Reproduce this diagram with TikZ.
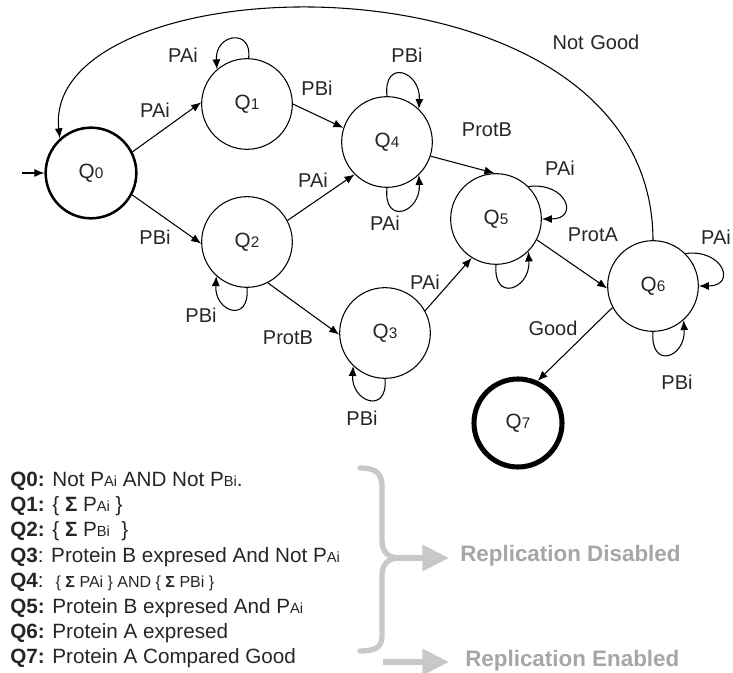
\documentclass[tikz,border=0pt]{standalone}
\usepackage{fontspec}
\setmainfont{Liberation Sans}
\usetikzlibrary{arrows.meta}
\definecolor{txt}{HTML}{262626}
\definecolor{bracegray}{HTML}{C8C8C8}
\definecolor{repgray}{HTML}{A6A6A6}
\newcommand\qn[1]{Q{\fontsize{11.5}{10}\selectfont #1}}
\newcommand\sml[1]{{\fontsize{11}{10}\selectfont #1}}
\newcommand\smq[1]{{\fontsize{12}{10}\selectfont #1}}
\begin{document}
\begin{tikzpicture}[x=0.75pt,y=-0.75pt,
  state/.style={circle,draw,line width=0.8pt,minimum size=68pt,inner sep=0pt,text=txt,font=\fontsize{15.5}{17}\selectfont},
  startst/.style={state,line width=1.9pt},
  finalst/.style={state,line width=3.8pt,minimum size=66pt},
  arr/.style={line width=0.8pt,-{Latex[length=7.5pt,width=6pt]}},
  lbl/.style={text=txt,font=\fontsize{15}{17}\selectfont,inner sep=1pt},
  leg/.style={anchor=west,text=txt,font=\fontsize{15.5}{17}\selectfont,inner sep=0pt},
  bracel/.style={draw=bracegray,line width=4pt},
  rep/.style={anchor=west,text=repgray,font=\fontsize{16.8}{18}\selectfont\bfseries,inner sep=0pt}]
\useasboundingbox (0,0) rectangle (733,673);

% states
\node[startst] (Q0) at (91,173) {\qn{0}};
\node[state] (Q1) at (247,104) {\qn{1}};
\node[state] (Q2) at (247,242) {\qn{2}};
\node[state] (Q4) at (387,142) {\qn{4}};
\node[state] (Q3) at (385,333) {\qn{3}};
\node[state] (Q5) at (496,219) {\qn{5}};
\node[state] (Q6) at (653,286) {\qn{6}};
\node[finalst] (Q7) at (518,423) {\qn{7}};

% initial arrow
\coordinate (init) at (22,173);
\draw[arr] (init) -- (Q0.180);

% transitions
\draw[arr] (Q0.27) -- (Q1.178);
\draw[arr] (Q0.-28) -- (Q2.182);
\draw[arr] (Q1.0) -- (Q4.162);
\draw[arr] (Q2.28) -- (Q4.225);
\draw[arr] (Q4.-18) -- (Q5.92);
\draw[arr] (Q2.-63) -- (Q3.182);
\draw[arr] (Q3.29) -- (Q5.238);
\draw[arr] (Q5.-27) -- (Q6.183);
\draw[arr] (Q6.208) -- (Q7.65);
\draw[arr] (Q6.north) .. controls (652,-60) and (40,-40) .. (Q0.132);

% loops
\draw[arr] (Q1.88) .. controls +(4,-30) and +(-2,-36) .. (Q1.131);
\draw[arr] (Q4.90) .. controls +(-4,-38) and +(2,-38) .. (Q4.46);
\draw[arr] (Q4.270) .. controls +(-4,38) and +(2,38) .. (Q4.-46);
\draw[arr] (Q5.45) .. controls +(38,-5) and +(38,0) .. (Q5.0);
\draw[arr] (Q5.270) .. controls +(-3,38) and +(2,38) .. (Q5.-45);
\draw[arr] (Q6.45) .. controls +(38,-5) and +(38,0) .. (Q6.0);
\draw[arr] (Q6.270) .. controls +(-3,38) and +(2,38) .. (Q6.-48);
\draw[arr] (Q2.270) .. controls +(3,36) and +(-2,36) .. (Q2.228);
\draw[arr] (Q3.270) .. controls +(3,36) and +(-2,36) .. (Q3.226);

% labels
\node[lbl] (l1) at (183,55) {PAi};
\node[lbl] (l2) at (155,110) {PAi};
\node[lbl] (l3) at (155,237) {PBi};
\node[lbl] (l4) at (317,88) {PBi};
\node[lbl] (l5) at (313,180) {PAi};
\node[lbl] (l6) at (407,55) {PBi};
\node[lbl] (l7) at (487,130) {ProtB};
\node[lbl] (l8) at (385,223) {PAi};
\node[lbl] (l9) at (560,168) {PAi};
\node[lbl] (l10) at (593,235) {ProtA};
\node[lbl] (l11) at (596,42) {Not\,\,Good};
\node[lbl] (l12) at (716,237) {PAi};
\node[lbl] (l13) at (677,382) {PBi};
\node[lbl] (l14) at (553,328) {Good};
\node[lbl] (l15) at (288,338) {ProtB};
\node[lbl] (l16) at (201,315) {PBi};
\node[lbl] (l17) at (425,282) {PAi};
\node[lbl] (l18) at (362,418) {PBi};

% legend
\node[leg] (g0) at (10,481) {\textbf{Q0:} Not P\sml{Ai} AND Not P\sml{Bi}.};
\node[leg] (g1) at (10,506) {\textbf{Q1:} \{ \textbf{Σ} P\sml{Ai} \}};
\node[leg] (g2) at (10,531) {\textbf{Q2:} \{ \textbf{Σ} P\sml{Bi}~~\}};
\node[leg] (g3) at (10,557) {\textbf{Q3}: Protein B expresed And Not P\sml{Ai}};
\node[leg] (g4) at (10,582) {\textbf{Q4}: \smq{~\{ \textbf{Σ} PAi \} AND \{ \textbf{Σ} PBi \}}};
\node[leg] (g5) at (10,608) {\textbf{Q5:} Protein B expresed And P\sml{Ai}};
\node[leg] (g6) at (10,633) {\textbf{Q6:} Protein A expresed};
\node[leg] (g7) at (10,658) {\textbf{Q7:} Protein A Compared Good};

% brace and result arrows
\coordinate (btip) at (400,558);
\coordinate (dis) at (449,558);
\coordinate (en0) at (383,662);
\coordinate (en1) at (449,662);
\draw[bracel,line cap=round] (360,468) .. controls (374,468) and (382,472) .. (382,486) -- (382,540)
  .. controls (382,552) and (388,558) .. (btip);
\draw[bracel,line cap=round] (btip) .. controls (388,558) and (382,564) .. (382,576) -- (382,636)
  .. controls (382,648) and (374,651) .. (360,651);
\draw[bracel,-{Triangle[length=20pt,width=19pt]}] (btip) -- (dis);
\draw[bracel,-{Triangle[length=20pt,width=19pt]}] (en0) -- (en1);
\node[rep] (rd) at (460,556) {Replication Disabled};
\node[rep] (re) at (465,661) {Replication Enabled};
\end{tikzpicture}
\end{document}
